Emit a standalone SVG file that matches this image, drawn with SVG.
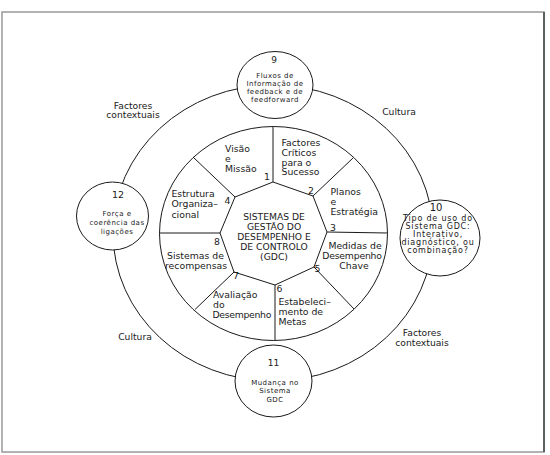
<svg xmlns="http://www.w3.org/2000/svg" width="550" height="455" viewBox="0 0 550 455">
<style>
.ln{fill:none;stroke:#1a1a1a;stroke-width:1}
.nd{fill:#fff;stroke:#1a1a1a;stroke-width:1}
text{font-family:"DejaVu Sans","Liberation Sans",sans-serif;fill:#1a1a1a}
.sg{font-size:9.3px}
.ct{font-size:9.2px;text-anchor:middle}
.lb{font-size:9.2px;text-anchor:middle}
.nt{font-size:7px;letter-spacing:0.5px;text-anchor:middle}
.nt10{font-size:8px;letter-spacing:0.8px;text-anchor:middle}
.num{font-size:9px;text-anchor:middle}
.vn{font-size:9.3px;text-anchor:middle}
</style>
<rect x="2" y="12" width="542" height="440" fill="#fff" stroke="#999" stroke-width="1.5"/>
<line x1="544" y1="12" x2="544" y2="452" stroke="#444" stroke-width="1.5"/>
<g id="connectors">
<ellipse class="ln" cx="273" cy="233" rx="160" ry="148"/>
<ellipse class="ln" cx="273.5" cy="233.5" rx="114" ry="107"/>
<path class="ln" d="M273,182 L313,196 L327,232 L314,267 L275,285 L234,272 L220,233 L235,197 Z"/>
<path class="ln" d="M273,182 L273,126.5 M313,196 L353,158 M327,232 L387.5,233 M314,267 L354,309 M275,285 L275,340 M234,272 L195,309.5 M220,233 L159.5,233 M235,197 L193,157"/>
</g>
<g id="center">
<text class="ct" x="274" y="219.5">SISTEMAS DE</text>
<text class="ct" x="274" y="229.5">GESTÃO DO</text>
<text class="ct" x="274" y="240">DESEMPENHO E</text>
<text class="ct" x="274" y="249.5">DE CONTROLO</text>
<text class="ct" x="274" y="260">(GDC)</text>
</g>
<g id="seg1">
<text class="sg" x="225" y="152">Visão</text>
<text class="sg" x="225" y="162">e</text>
<text class="sg" x="225" y="172">Missão</text>
<text class="vn" x="267" y="180">1</text>
</g>
<g id="seg2">
<text class="sg" x="281.5" y="146">Factores</text>
<text class="sg" x="281.5" y="156">Críticos</text>
<text class="sg" x="281.5" y="165.5">para o</text>
<text class="sg" x="281.5" y="175">Sucesso</text>
<text class="vn" x="311" y="193.5">2</text>
</g>
<g id="seg3">
<text class="sg" x="330.5" y="194.5">Planos</text>
<text class="sg" x="330.5" y="204.5">e</text>
<text class="sg" x="330.5" y="214.5">Estratégia</text>
<text class="vn" x="333" y="230.5">3</text>
</g>
<g id="seg5">
<text class="sg" x="355" y="248.5" text-anchor="middle">Medidas de</text>
<text class="sg" x="352" y="258.5" text-anchor="middle" letter-spacing="-0.2">Desempenho</text>
<text class="sg" x="354" y="268.5" text-anchor="middle">Chave</text>
<text class="vn" x="317.5" y="271.5">5</text>
</g>
<g id="seg6">
<text class="sg" x="278.5" y="305">Estabeleci–</text>
<text class="sg" x="278.5" y="314.5">mento de</text>
<text class="sg" x="278.5" y="324.5">Metas</text>
<text class="vn" x="279.5" y="291.5">6</text>
</g>
<g id="seg7">
<text class="sg" x="213" y="298">Avaliação</text>
<text class="sg" x="213" y="307.5">do</text>
<text class="sg" x="212.5" y="317.5" letter-spacing="-0.3">Desempenho</text>
<text class="vn" x="236" y="278.5">7</text>
</g>
<g id="seg8">
<text class="sg" x="167" y="258.5">Sistemas de</text>
<text class="sg" x="165" y="268.5">recompensas</text>
<text class="vn" x="217" y="244.5">8</text>
</g>
<g id="seg4">
<text class="sg" x="171.5" y="197">Estrutura</text>
<text class="sg" x="171.5" y="207">Organiza–</text>
<text class="sg" x="171.5" y="217.5">cional</text>
<text class="vn" x="227.5" y="203.5">4</text>
</g>
<g id="node9">
<ellipse class="nd" cx="275" cy="85" rx="38" ry="33.5"/>
<text class="num" x="274" y="63">9</text>
<text class="nt" x="275" y="77.5">Fluxos de</text>
<text class="nt" x="275" y="85.5">Informação de</text>
<text class="nt" x="275" y="93.5">feedback e de</text>
<text class="nt" x="275" y="102">feedforward</text>
</g>
<g id="node10">
<ellipse class="nd" cx="440" cy="238" rx="40" ry="38"/>
<text class="num" x="436" y="210.5" style="font-size:10px">10</text>
<text class="nt10" x="438" y="221">Tipo de uso do</text>
<text class="nt10" x="438" y="229">Sistema GDC:</text>
<text class="nt10" x="438" y="236.5">Interativo,</text>
<text class="nt10" x="438" y="244.5">diagnóstico, ou</text>
<text class="nt10" x="438" y="253">combinação?</text>
</g>
<g id="node11">
<ellipse class="nd" cx="273.5" cy="381" rx="38.5" ry="36"/>
<text class="num" x="273.5" y="366">11</text>
<text class="nt" x="275" y="384.5">Mudança no</text>
<text class="nt" x="275" y="393">Sistema</text>
<text class="nt" x="275" y="402">GDC</text>
</g>
<g id="node12">
<ellipse class="nd" cx="112.5" cy="216" rx="36" ry="34"/>
<text class="num" x="118" y="197.5" style="font-size:9.5px">12</text>
<text class="nt" x="117" y="216">Força e</text>
<text class="nt" x="117" y="225">coerência das</text>
<text class="nt" x="117" y="233.5">ligações</text>
</g>
<g id="labels">
<text class="lb" x="133" y="108.5">Factores</text>
<text class="lb" x="133" y="118">contextuais</text>
<text class="lb" x="399" y="115">Cultura</text>
<text class="lb" x="135" y="339.5">Cultura</text>
<text class="lb" x="422" y="336">Factores</text>
<text class="lb" x="422" y="346">contextuais</text>
</g>
</svg>
